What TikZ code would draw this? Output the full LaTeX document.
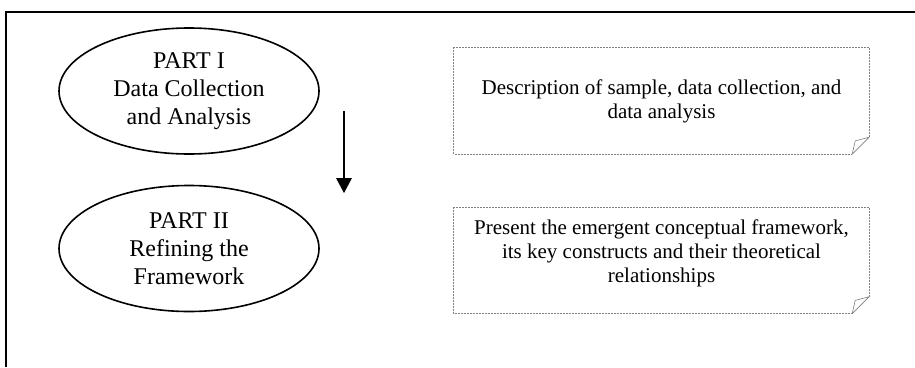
\documentclass[tikz,border=0pt]{standalone}
\usepackage{fontspec}
\setmainfont{Liberation Serif}
\usetikzlibrary{shapes.geometric,arrows.meta}
\begin{document}
\begin{tikzpicture}[x=1pt,y=-1pt,
  phase/.style={ellipse, draw, line width=1.6pt, minimum width=260pt,
    minimum height=126pt, inner sep=0pt, align=center,
    font=\fontsize{24}{28}\selectfont},
  notebox/.style={rectangle, minimum width=415pt, minimum height=106pt,
    inner sep=0pt},
  notetext/.style={align=center, inner sep=0pt,
    font=\fontsize{21}{24}\selectfont},
  noteline/.style={draw=gray, line width=0.7pt, dash pattern=on 2pt off 1pt},
  foldline/.style={draw=gray, line width=0.6pt, line join=bevel},
  flow/.style={line width=2.5pt,
    -{Triangle[length=15pt,width=16pt,line width=0pt]}},
  frameline/.style={line width=1.8pt},
]
\useasboundingbox (0,0) rectangle (915,367);

% outer frame (only its top and left sides fall inside the page)
\draw[frameline] (6,367) -- (6,12) -- (915,12);

% the two phases
\node[phase] (p1) at (189,91) {PART I\\Data Collection\\and Analysis};
\node[phase] (p2) at (189,248.5) {PART II\\Refining the\\Framework};

% flow from the first phase to the second
\coordinate (flowstart) at ([shift={(155,20)}]p1.center);
\coordinate (flowend) at ([shift={(155,-55.5)}]p2.center);
\draw[flow] (flowstart) -- (flowend);

% note boxes with a curled bottom-right corner
\node[notebox] (n1) at (661.5,101) {};
\node[notetext] (t1) at ([yshift=-0.5pt]n1.center)
  {Description of sample, data collection, and\\data analysis};

\node[notebox] (n2) at (661.5,260.5) {};
\node[notetext] (t2) at ([yshift=7pt]n2.center)
  {Present the emergent conceptual framework,\\its key constructs and their theoretical\\relationships};

\foreach \n in {n1,n2}{
  \draw[noteline] ([yshift=17pt]\n.south east) -- (\n.north east)
    -- (\n.north west) -- (\n.south west) -- ([xshift=-17pt]\n.south east);
  \draw[foldline] ([xshift=-17pt]\n.south east) -- ([yshift=17pt]\n.south east)
    -- ([xshift=-14pt,yshift=13.3pt]\n.south east) -- cycle;
}
\end{tikzpicture}
\end{document}
